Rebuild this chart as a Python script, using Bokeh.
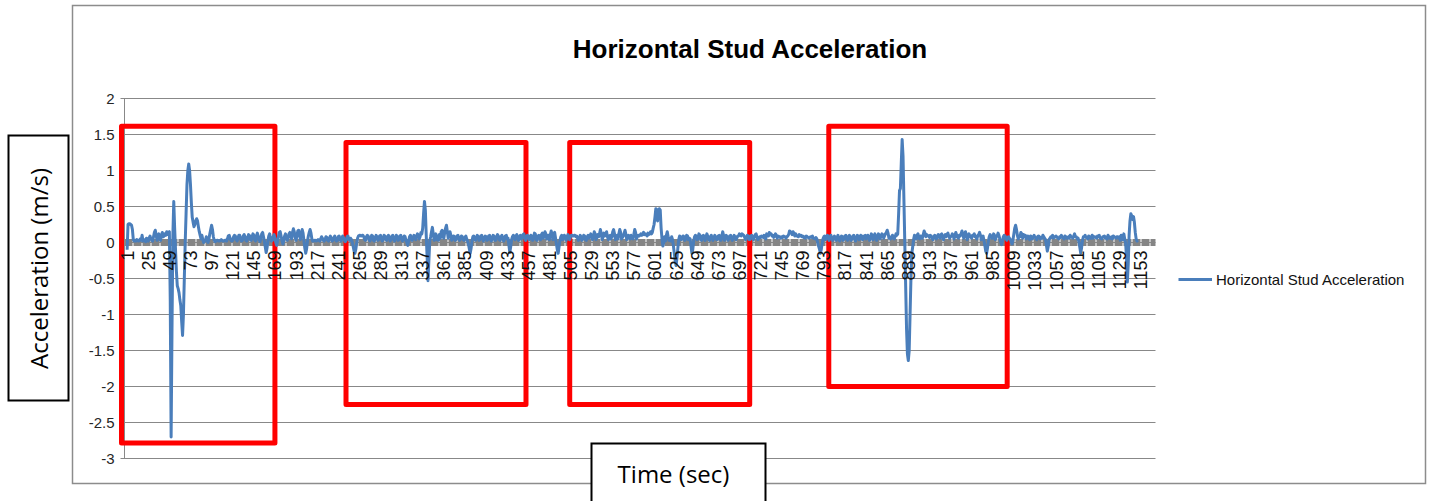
import math
from bokeh.plotting import figure
from bokeh.models import (Range1d, LabelSet, ColumnDataSource, BoxAnnotation, Label, Legend)
from bokeh.core.properties import value
from bokeh.embed import file_html
from bokeh.resources import INLINE

# Horizontal stud acceleration (m/s), one sample per time step, in hundredths.
# Each row holds 24 consecutive samples (1-24, 25-48, ...).
accel_rows = [
    [-10, 25, 26, 26, 25, 24, 18, 4, 2, 3, 2, 4, 3, 2, 3, 5, 3, 10, 2, 4, 3, 1, 6, 3],
    [2, 6, 9, 5, 3, 2, 8, 14, 17, 10, 3, 9, 12, 6, 3, 10, 14, 8, 9, 12, 10, 15, 11, 13],
    [15, -80, -270, -120, 10, 57, 20, -10, -40, -60, -64, -70, -80, -88, -110, -129, -100, -50, 0, 40, 80, 100, 109, 100],
    [80, 55, 35, 28, 22, 25, 30, 33, 30, 22, 15, 10, 5, 10, 4, 0, 2, 3, 8, 2, 0, 5, 12, 18],
    [24, 18, 8, 3, 1, 2, 3, 3, 2, 2, 3, 4, 3, 2, 2, 3, 3, 2, 5, 9, 10, 6, 3, 2],
    [3, 8, 10, 9, 4, 2, 6, 10, 10, 5, 2, 3, 9, 11, 8, 3, 2, 7, 11, 10, 4, 3, 8, 12],
    [10, 4, 2, 9, 13, 9, 3, 1, 6, 12, 14, 8, 2, -6, -14, -8, 2, 9, 12, 6, 2, 3, 8, 11],
    [6, 0, -4, 2, 8, 14, 15, 9, 3, -2, 2, 9, 12, 7, 3, 6, 12, 14, 9, 5, 14, 19, 15, 7],
    [3, 9, 16, 17, 10, 4, 12, 18, 13, 2, -8, -15, -9, 2, 9, 14, 18, 13, 5, 2, 2, 3, 3, 2],
    [3, 4, 3, 2, 5, 8, 6, 3, 2, 4, 8, 7, 3, 2, 6, 9, 6, 2, 3, 7, 9, 5, 2, 3],
    [8, 9, 4, 2, 6, 9, 7, 3, 1, 3, 8, 9, 5, 3, 6, 4, 0, -6, -12, -15, -9, 0, 6, 9],
    [10, 10, 9, 10, 10, 8, 4, 3, 8, 10, 9, 4, 2, 6, 10, 9, 3, 2, 7, 10, 8, 3, 4, 9],
    [10, 6, 2, 5, 10, 9, 4, 3, 8, 10, 7, 2, 4, 9, 10, 5, 2, 6, 10, 8, 3, 4, 9, 10],
    [6, 2, 5, 9, 8, 3, 0, -4, 2, 8, 10, 6, 3, 7, 10, 8, 4, 9, 12, 10, 5, 8, 14, 12],
    [20, 40, 57, 45, 10, -20, -53, -25, 2, 8, 15, 21, 12, 3, 6, 12, 4, 9, 3, 11, 6, 15, 17, 8],
    [6, 14, 20, 24, 15, 6, 9, 15, 10, 3, 5, 9, 8, 3, 4, 9, 10, 6, 3, 5, 9, 8, 4, 3],
    [7, 9, 5, 2, -2, -9, -15, -8, 2, 8, 9, 5, 3, 7, 10, 8, 3, 4, 9, 10, 6, 2, 6, 9],
    [8, 3, 4, 9, 10, 5, 2, 7, 10, 9, 3, 3, 8, 11, 9, 4, 3, 8, 10, 7, 2, 5, 9, 10],
    [5, 6, -4, -14, -6, 4, 8, 10, 6, 4, 9, 11, 6, 3, 8, 10, 5, 6, 11, 12, 6, 3, 8, 10],
    [9, 4, 5, 10, 9, 3, 6, 13, 12, 4, 3, 9, 10, 6, 4, 11, 13, 6, 8, 15, 12, 5, 6, 10],
    [4, 10, 16, 12, 4, 11, 14, 6, -2, -10, -15, -6, 3, 8, 10, 4, 6, 10, 8, 3, 7, 11, 9, 4],
    [8, 10, 10, 9, 10, 10, 8, 9, 6, 3, 7, 10, 8, 3, 5, 10, 9, 4, 3, 8, 10, 6, 8, 12],
    [9, 4, 8, 15, 12, 4, 7, 11, 8, 12, 18, 12, 4, 8, 13, 9, 12, 15, 8, 4, 9, 10, 5, 8],
    [15, 18, 12, 4, 8, 10, 5, 12, 18, 14, 5, 7, 9, 13, 17, 11, 4, 7, 10, 6, 5, 10, 9, 5],
    [11, 18, 14, 5, 8, 10, 9, 10, 12, 10, 11, 14, 11, 12, 11, 9, 13, 11, 12, 15, 12, 14, 20, 25],
    [35, 47, 46, 30, 40, 47, 45, 20, 5, -5, 0, 8, 2, 10, 15, 8, 3, 6, 2, 8, 4, -5, -15, -25],
    [-32, -22, -8, 4, 9, 8, 4, 5, 9, 8, 3, 5, 10, 9, 4, 6, 5, -5, -15, -10, 2, 8, 10, 9],
    [4, 6, 12, 10, 4, 3, 9, 10, 6, 3, 8, 12, 9, 4, 3, 8, 10, 6, 3, 7, 10, 8, 4, 4],
    [9, 10, 5, 3, 9, 15, 10, 3, 7, 10, 8, 3, 5, 9, 10, 6, 3, 7, 10, 8, 4, 6, 9, 9],
    [12, 11, 9, 12, 11, 10, 7, 4, 7, 10, 9, 4, 4, 9, 10, 6, 4, 8, 11, 12, 7, 4, 6, 8],
    [7, 9, 8, 7, 10, 8, 5, 12, 11, 9, 14, 12, 12, 9, 10, 7, 9, 12, 10, 6, 9, 8, 8, 6],
    [8, 7, 9, 8, 8, 6, 8, 9, 11, 16, 15, 14, 11, 15, 13, 9, 12, 9, 9, 8, 11, 9, 10, 8],
    [9, 7, 8, 6, 9, 8, 7, 6, 7, 8, 7, 9, 6, 6, 5, 7, 5, 0, -5, -9, -15, -10, -2, 5],
    [8, 9, 4, 8, 10, 6, 3, 8, 10, 7, 3, 6, 9, 7, 3, 7, 10, 6, 2, 6, 9, 8, 3, 5],
    [9, 10, 5, 3, 8, 10, 7, 3, 5, 9, 10, 5, 2, 7, 10, 9, 4, 5, 10, 9, 4, 6, 9, 10],
    [5, 6, 10, 8, 3, 6, 12, 9, 4, 9, 12, 8, 3, 8, 12, 10, 5, 9, 12, 11, 6, 9, 12, 14],
    [17, 13, 6, 8, 5, 6, 10, 8, 5, 8, 12, 10, 12, 40, 72, 75, 110, 143, 120, 60, 0, -60, -120, -155],
    [-164, -150, -100, -50, -15, -6, 4, 10, 8, 5, 10, 12, 6, 5, 9, 8, 6, 11, 16, 13, 8, 11, 10, 9],
    [7, 10, 9, 6, 4, 8, 10, 6, 5, 9, 11, 7, 6, 11, 12, 7, 4, 9, 11, 8, 11, 13, 9, 6],
    [8, 9, 12, 10, 5, 9, 14, 10, 7, 6, 10, 9, 12, 16, 12, 6, 10, 15, 11, 4, 8, 12, 9, 7],
    [6, 10, 9, 12, 8, 7, 5, 10, 11, 14, 10, 4, 8, 9, 3, -4, -12, -15, -8, 2, 8, 11, 9, 6],
    [6, 12, 10, 4, 8, 9, 13, 10, 5, 1, -3, 2, 8, 10, 9, 5, 3, 7, 8, 6, 4, 1, -2, 4],
    [12, 20, 24, 18, 10, 5, 9, 8, 14, 12, 6, 11, 9, 10, 5, 8, 9, 6, 4, 9, 8, 5, 7, 10],
    [7, 6, 4, 8, 9, 8, 5, 7, 6, 10, 8, 6, 4, -4, -12, -6, 4, 6, 8, 7, 10, 6, 7, 8],
    [9, 7, 6, 5, 8, 7, 10, 7, 7, 5, 9, 8, 6, 6, 8, 6, 10, 8, 7, 6, 9, 12, 8, 8],
    [5, 6, 1, -7, -15, -7, 3, 8, 8, 10, 7, 7, 5, 9, 8, 6, 6, 10, 6, 8, 8, 7, 6, 9],
    [8, 10, 6, 6, 5, 8, 8, 9, 6, 7, 5, 10, 8, 6, 6, 8, 5, 9, 8, 7, 6, 8, 8, 6],
    [8, 3, 10, 6, 4, 12, 5, 0, -20, -55, -30, 10, 30, 40, 37, 32, 36, 28, 14, 5, 2, 3],
]
accel = [v / 100 for row in accel_rows for v in row]
time_steps = list(range(1, len(accel) + 1))

# Category labels along the time axis and value ticks
x_tick_values = list(range(1, 1154, 24))
x_tick_labels = [str(t) for t in x_tick_values]
y_tick_values = [-3, -2.5, -2, -1.5, -1, -0.5, 0, 0.5, 1, 1.5, 2]
y_tick_labels = ["-3", "-2.5", "-2", "-1.5", "-1", "-0.5", "0", "0.5", "1", "1.5", "2"]

# Highlighted event windows
window_start = [-5.4, 249.8, 504.1, 798.6]
window_end = [169.0, 454.4, 708.7, 1001.4]
window_top = [1.615, 1.39, 1.39, 1.614]
window_bottom = [-2.785, -2.25, -2.25, -2.0]

# Plot area extent in data units; the canvas frame is widened around it so that
# the chart border, title, legend and axis title boxes all live on the same canvas.
X_MIN, X_MAX = -2, 1170
Y_MIN, Y_MAX = -3, 2
W, H = 1434, 501
AREA_L, AREA_R, AREA_T, AREA_B = 124, 1155, 98, 458
kx = (AREA_R - AREA_L) / (X_MAX - X_MIN)
ky = (AREA_B - AREA_T) / (Y_MAX - Y_MIN)
x_range = Range1d(X_MIN - AREA_L / kx, X_MAX + (W - AREA_R) / kx)
y_range = Range1d(Y_MIN - (H - AREA_B) / ky, Y_MAX + AREA_T / ky)

FONT = "Liberation Sans"
GRID = "#888888"
BLUE = "#4A7EBB"
TICK_OUT = 4 / kx  # left tick length in data units

p = figure(width=W, height=H, x_range=x_range, y_range=y_range,
           output_backend="svg", toolbar_location=None,
           x_axis_location=None, y_axis_location=None, min_border=0,
           outline_line_color=None, background_fill_color="white",
           border_fill_color="white")
p.grid.visible = False

# Chart area border
p.add_layout(BoxAnnotation(left=72, right=1425, top=5, bottom=483,
                           left_units="canvas", right_units="canvas",
                           top_units="canvas", bottom_units="canvas",
                           fill_alpha=0, line_color="#8c8c8c", line_alpha=1,
                           line_width=1.5, line_join="miter", border_radius=0,
                           level="underlay"))

# Horizontal gridlines with their outward ticks, and the value axis line
p.segment(x0=[X_MIN - TICK_OUT] * len(y_tick_values), x1=[X_MAX] * len(y_tick_values),
          y0=y_tick_values, y1=y_tick_values, line_color=GRID, line_width=1)
p.segment(x0=[X_MIN], x1=[X_MIN], y0=[Y_MIN], y1=[Y_MAX], line_color=GRID, line_width=1)

# Value tick labels
ytick_src = ColumnDataSource(dict(x=[X_MIN] * len(y_tick_values), y=y_tick_values,
                                  text=y_tick_labels))
p.add_layout(LabelSet(x="x", y="y", text="text", source=ytick_src, x_offset=-10,
                      text_align="right", text_baseline="middle",
                      text_font=value(FONT), text_font_size="15px",
                      text_color="#262626"))

# Category axis crossing at zero
p.line([X_MIN, X_MAX], [0, 0], line_color="#858585", line_width=7, line_dash="8 1")

xtick_src = ColumnDataSource(dict(x=x_tick_values, y=[0] * len(x_tick_values),
                                  text=x_tick_labels))
p.add_layout(LabelSet(x="x", y="y", text="text", source=xtick_src,
                      angle=math.pi / 2, text_align="right", text_baseline="middle",
                      y_offset=-8, text_font=value(FONT), text_font_size="18px",
                      text_color="#111111"))

# Event windows
p.quad(left=window_start, right=window_end, top=window_top, bottom=window_bottom,
       fill_color=None, line_color="#FF0000", line_width=5, line_join="round")

line = p.line(time_steps, accel, line_color=BLUE, line_width=3, line_join="round")

legend = Legend(items=[("Horizontal Stud Acceleration", [line])], location=(1178, 212),
                padding=0, margin=0, border_line_color=None, background_fill_alpha=0,
                glyph_width=34, glyph_height=20, label_height=20, label_standoff=4,
                label_text_font=FONT, label_text_font_size="15px",
                label_text_color="#111111")
p.add_layout(legend)

p.add_layout(Label(x=750, y=48, x_units="canvas", y_units="canvas",
                   text="Horizontal Stud Acceleration", text_align="center",
                   text_baseline="middle", text_font=FONT, text_font_style="bold",
                   text_font_size="26px", text_color="#000000"))

# Axis title boxes
p.add_layout(BoxAnnotation(left=8, right=68, top=135, bottom=400,
                           left_units="canvas", right_units="canvas",
                           top_units="canvas", bottom_units="canvas",
                           fill_color="white", fill_alpha=1, border_radius=0,
                           line_join="miter", line_color="black", line_alpha=1,
                           line_width=2))
p.add_layout(Label(x=38, y=268, x_units="canvas", y_units="canvas",
                   text="Acceleration (m/s)", angle=math.pi / 2, text_align="center",
                   text_baseline="middle", text_font="Open Sans",
                   text_font_size="24px", text_color="#000000"))
p.add_layout(BoxAnnotation(left=591, right=765, top=443, bottom=520,
                           left_units="canvas", right_units="canvas",
                           top_units="canvas", bottom_units="canvas",
                           fill_color="white", fill_alpha=1, border_radius=0,
                           line_join="miter", line_color="black", line_alpha=1,
                           line_width=2))
p.add_layout(Label(x=673, y=473, x_units="canvas", y_units="canvas",
                   text="Time (sec)", text_align="center",
                   text_baseline="middle", text_font="Open Sans",
                   text_font_size="24px", text_color="#000000"))

open("out.html", "w").write(file_html(p, INLINE))
